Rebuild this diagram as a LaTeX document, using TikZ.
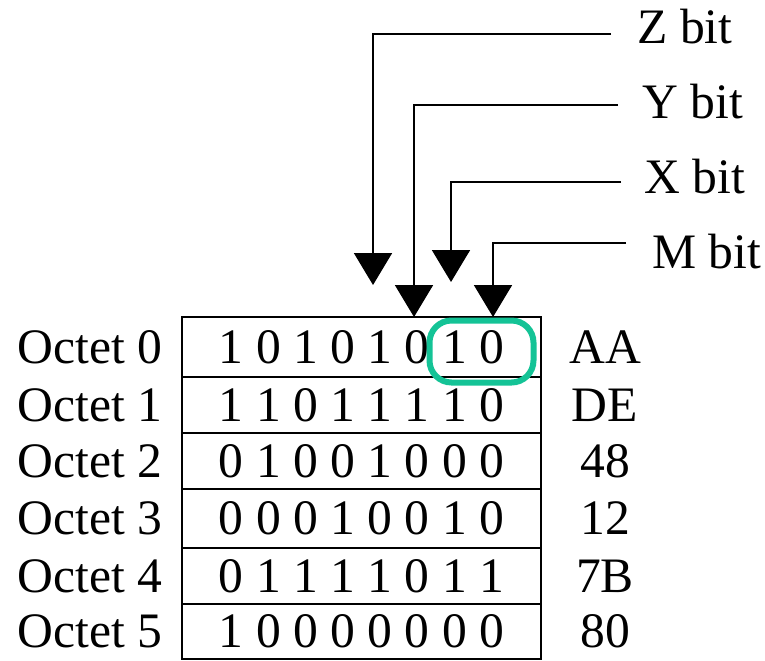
\documentclass[tikz,border=0pt]{standalone}
\usepackage{fontspec}
\setmainfont{Liberation Serif}
\usetikzlibrary{arrows.meta,positioning}
\definecolor{pairgreen}{RGB}{20,195,150}
\tikzset{
	octrow/.style={draw, line width=1pt, minimum width=179.5pt, minimum height=#1, inner sep=0pt, outer sep=0pt},
	octrow/.default=28pt,
	octname/.style={inner sep=0pt},
	hexval/.style={inner sep=0pt},
	bitname/.style={inner sep=0pt, anchor=base west},
	bitline/.style={line width=1pt, -{Triangle[width=19pt,length=16pt]}},
	pairbox/.style={draw=pairgreen, line width=3pt, rounded corners=11pt, minimum width=52pt, minimum height=31pt, inner sep=0pt}
}
\begin{document}
\begin{tikzpicture}[x=0.5pt, y=-0.5pt, font=\fontsize{24.8}{30}\selectfont]
	\useasboundingbox (0,0) rectangle (765,660);

	\node[octrow=30pt] (r0) at (361.5,347) {1 0 1 0 1 0 1 0};
	\node[octrow, below=0pt of r0] (r1) {1 1 0 1 1 1 1 0};
	\node[octrow, below=0pt of r1] (r2) {0 1 0 0 1 0 0 0};
	\node[octrow=29.5pt, below=0pt of r2] (r3) {0 0 0 1 0 0 1 0};
	\node[octrow, below=0pt of r3] (r4) {0 1 1 1 1 0 1 1};
	\node[octrow=27.5pt, below=0pt of r4] (r5) {1 0 0 0 0 0 0 0};

	\node[octname, left=9.5pt of r0] (o0) {Octet 0};
	\node[octname, left=9.5pt of r1] (o1) {Octet 1};
	\node[octname, left=9.5pt of r2] (o2) {Octet 2};
	\node[octname, left=9.5pt of r3] (o3) {Octet 3};
	\node[octname, left=9.5pt of r4] (o4) {Octet 4};
	\node[octname, left=9.5pt of r5] (o5) {Octet 5};

	\node[hexval] (h0) at ([xshift=32pt]r0.east) {AA};
	\node[hexval] (h1) at ([xshift=32pt]r1.east) {DE};
	\node[hexval] (h2) at ([xshift=32pt]r2.east) {48};
	\node[hexval] (h3) at ([xshift=32pt]r3.east) {12};
	\node[hexval] (h4) at ([xshift=32pt]r4.east) {7B};
	\node[hexval] (h5) at ([xshift=32pt]r5.east) {80};

	\node[bitname] (zbit) at (637,43) {Z bit};
	\node[bitname] (ybit) at (642,118) {Y bit};
	\node[bitname] (xbit) at (644,193) {X bit};
	\node[bitname] (mbit) at (652,268) {M bit};

	\coordinate (zbend) at (373,34);
	\coordinate (ybend) at (414,105);
	\coordinate (xbend) at (451,182);
	\coordinate (mbend) at (493,243);
	\coordinate (ztip) at (373,285);
	\coordinate (xtip) at (451,282);

	\draw[bitline] ([xshift=-13pt]zbit.west |- zbend) -- (zbend) -- (ztip);
	\draw[bitline] ([xshift=-12pt]ybit.west |- ybend) -- (ybend) -- (ybend |- r0.north);
	\draw[bitline] ([xshift=-11.5pt]xbit.west |- xbend) -- (xbend) -- (xtip);
	\draw[bitline] ([xshift=-13pt]mbit.west |- mbend) -- (mbend) -- (mbend |- r0.north);

	\node[pairbox] (mpair) at (481.5,351.5) {};
\end{tikzpicture}
\end{document}
